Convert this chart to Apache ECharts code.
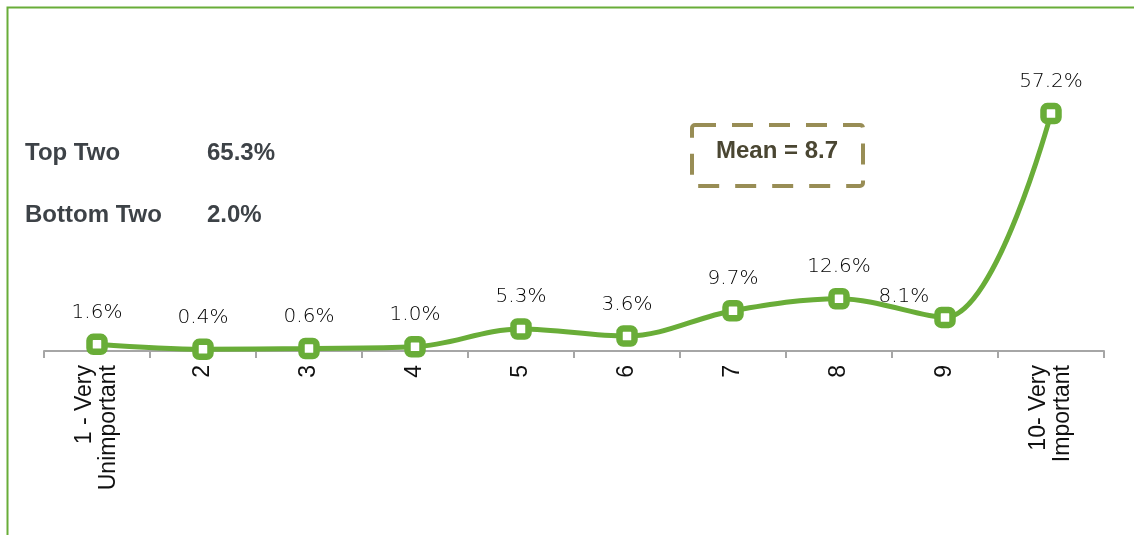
<!DOCTYPE html>
<html>
<head>
<meta charset="utf-8">
<script src="https://cdn.jsdelivr.net/npm/echarts@6/dist/echarts.min.js"></script>
<style>
  html, body { margin: 0; padding: 0; background: #fff; }
  #chart { width: 1134px; height: 535px; }
</style>
</head>
<body>
<div id="chart"></div>
<script>
// Importance rating distribution (share of respondents per scale point)
const categories = ['1 - Very\nUnimportant', '2', '3', '4', '5', '6', '7', '8', '9', '10- Very\nImportant'];
const shares = [1.6, 0.4, 0.6, 1.0, 5.3, 3.6, 9.7, 12.6, 8.1, 57.2];

// Summary figures shown beside the curve
const summaryNames = ['Top Two', 'Bottom Two'];
const summaryValues = ['65.3%', '2.0%'];
const meanScore = 8.7;

const green = '#69ad38';
const boldFont = 'bold 24px "Liberation Sans", Arial, sans-serif';
const chart = echarts.init(document.getElementById('chart'), null, { renderer: 'canvas' });

const seriesData = shares.map((v, i) => {
  const item = { value: v };
  if (i === 8) {
    item.label = { position: 'left', offset: [6, -21] };
  }
  return item;
});

const summaryGraphics = [];
summaryNames.forEach((name, i) => {
  const y = 154 + i * 62;
  summaryGraphics.push({
    type: 'text', left: 25, top: y - 13,
    style: { text: name, font: boldFont, fill: '#3d4247' }
  });
  summaryGraphics.push({
    type: 'text', left: 207, top: y - 13,
    style: { text: summaryValues[i], font: boldFont, fill: '#3d4247' }
  });
});

chart.setOption({
  animation: false,
  grid: { left: 44, right: 30, top: 102, bottom: 184, containLabel: false },
  xAxis: {
    type: 'category',
    data: categories,
    boundaryGap: true,
    axisLine: { lineStyle: { color: '#a6a6a6', width: 2 } },
    axisTick: { show: true, length: 7, alignWithLabel: false, lineStyle: { color: '#a6a6a6', width: 2 } },
    axisLabel: {
      rotate: 90,
      interval: 0,
      margin: 14,
      color: '#111',
      fontSize: 23,
      lineHeight: 24,
      fontFamily: '"Liberation Sans", Arial, sans-serif'
    }
  },
  yAxis: {
    type: 'value',
    min: 0,
    max: 60,
    show: false,
    splitLine: { show: false }
  },
  series: [{
    type: 'line',
    data: seriesData,
    smooth: 0.35,
    symbol: 'roundRect',
    symbolSize: 15,
    showAllSymbol: true,
    lineStyle: { color: green, width: 5 },
    itemStyle: { color: '#ffffff', borderColor: green, borderWidth: 6.5 },
    label: {
      show: true,
      position: 'top',
      distance: 11,
      formatter: p => p.value.toFixed(1) + '%',
      color: '#000',
      fontSize: 20,
      fontFamily: '"DejaVu Sans", sans-serif',
      fontWeight: 200
    },
    z: 3
  }],
  graphic: [
    // outer frame
    {
      type: 'rect', left: 5, top: 5, silent: true,
      shape: { width: 1150, height: 560 },
      style: { fill: 'none', stroke: green, lineWidth: 2 }
    },
    // mean callout
    {
      type: 'rect', left: 690, top: 123, silent: true,
      shape: { width: 171, height: 61, r: 3 },
      style: { fill: '#fff', stroke: '#988d55', lineWidth: 4, lineDash: [21, 16] }
    },
    {
      type: 'text', left: 716, top: 139,
      style: { text: 'Mean = ' + meanScore.toFixed(1), font: boldFont, fill: '#4a4632' }
    },
    ...summaryGraphics
  ]
});
</script>
</body>
</html>
